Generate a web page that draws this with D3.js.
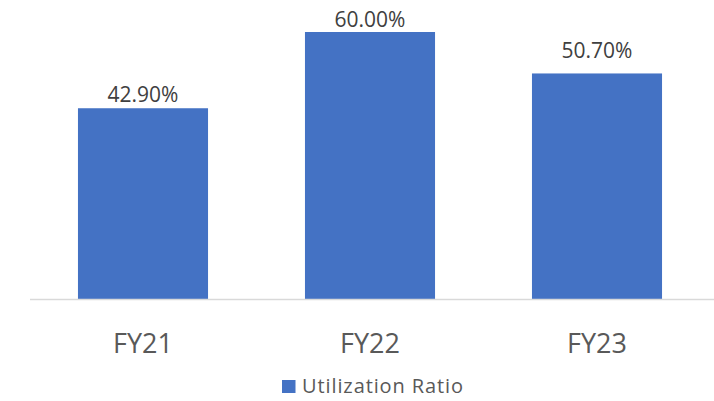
<!DOCTYPE html>
<html>
<head>
<meta charset="utf-8">
<script src="https://cdn.jsdelivr.net/npm/d3@7"></script>
<style>
  body { margin: 0; background: #fff; }
  svg { font-family: "Open Sans", sans-serif; }
</style>
</head>
<body>
<div id="chart"></div>
<script>
var categories = ["FY21", "FY22", "FY23"];
var utilization = [42.9, 60.0, 50.7];
var seriesName = "Utilization Ratio";

// how far each value label sits above its bar (px)
var labelGap = [6.5, 5.5, 15];

var width = 714, height = 401;

var svg = d3.select("#chart")
    .append("svg")
    .attr("width", width)
    .attr("height", height);

var x = d3.scaleBand()
    .domain(categories)
    .range([29.5, 710.5])
    .paddingInner(0.427)
    .paddingOuter(0.2135);

// 0 sits on the axis line, 60 at the top of the tallest bar
var y = d3.scaleLinear()
    .domain([0, 60])
    .range([299.5, 32]);

var data = categories.map(function (c, i) {
    return { cat: c, value: utilization[i], gap: labelGap[i] };
});

svg.append("g")
    .selectAll("rect")
    .data(data)
    .enter().append("rect")
    .attr("x", function (d) { return x(d.cat); })
    .attr("y", function (d) { return y(d.value); })
    .attr("width", x.bandwidth())
    .attr("height", function (d) { return y(0) - y(d.value); })
    .attr("fill", "#4472C4");

// value labels
svg.append("g")
    .selectAll("text")
    .data(data)
    .enter().append("text")
    .attr("x", function (d) { return x(d.cat) + x.bandwidth() / 2; })
    .attr("y", function (d) { return y(d.value) - d.gap; })
    .attr("text-anchor", "middle")
    .attr("font-size", 21)
    .attr("fill", "#404040")
    .text(function (d) { return d.value.toFixed(2) + "%"; });

// category axis
var axis = svg.append("g")
    .attr("transform", "translate(0," + y(0) + ")")
    .call(d3.axisBottom(x).tickSize(0));
axis.select(".domain")
    .attr("d", "M30,0H714")
    .attr("stroke", "#d9d9d9")
    .attr("stroke-width", 1.3);
axis.selectAll("text")
    .attr("y", 53)
    .attr("dy", 0)
    .attr("font-size", 27)
    .attr("fill", "#595959")
    .attr("font-family", "Open Sans, sans-serif");

// legend
var legend = svg.append("g").attr("transform", "translate(282,380)");
legend.append("rect")
    .attr("width", 13.5)
    .attr("height", 13)
    .attr("fill", "#4472C4");
legend.append("text")
    .attr("x", 20)
    .attr("y", 13.3)
    .attr("font-size", 20)
    .attr("letter-spacing", 0.9)
    .attr("fill", "#595959")
    .text(seriesName);
</script>
</body>
</html>
